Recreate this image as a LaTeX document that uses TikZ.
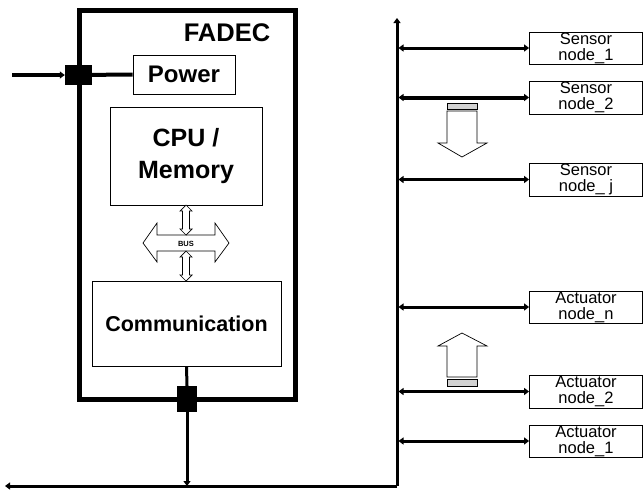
\documentclass[tikz,border=0pt]{standalone}
\usepackage{fontspec}
\setmainfont{Liberation Sans}
\usetikzlibrary{arrows.meta}
\tikzset{
  thinbox/.style={draw=black, line width=0.8pt, inner sep=0pt, fill=white},
  biglabel/.style={font=\fontsize{24}{32}\selectfont\bfseries, align=center},
  nodebox/.style={thinbox, minimum width=113pt, align=center,
    font=\fontsize{16.5}{16}\selectfont},
  pin/.style={fill=black, draw=none, inner sep=0pt},
  busline/.style={line width=3pt},
  tip/.style={-{Triangle[length=5pt,width=7pt]}},
  dbl/.style={line width=3pt, {Triangle[length=5pt,width=7pt]}-{Triangle[length=5pt,width=7pt]}},
  hollow/.style={draw=black, line width=0.7pt, fill=white},
  stripe/.style={draw=black, line width=0.7pt, fill=gray!35}
}
\begin{document}
\begin{tikzpicture}[x=1pt,y=-1pt]
\useasboundingbox (0,0) rectangle (643,491);
% FADEC enclosure
\node[draw=black, line width=5pt, inner sep=0pt, minimum width=215.5pt, minimum height=389.5pt] (fadec) at (187.25,204.75) {};
\node[biglabel, font=\fontsize{25.5}{30}\selectfont\bfseries] (fadeclabel) at (227,33) {FADEC};
% inner blocks
\node[thinbox, biglabel, minimum width=102pt, minimum height=39pt] (power) at (184,74.5) {Power};
\node[thinbox, biglabel, font=\fontsize{25}{32}\selectfont\bfseries, minimum width=152pt, minimum height=98pt] (cpu) at (186,156) {CPU /\\Memory};
\node[thinbox, biglabel, font=\fontsize{21.5}{24}\selectfont\bfseries, minimum width=189pt, minimum height=85pt] (comm) at (186.5,323.5) {Communication};
% connectors (pins)
\node[pin, minimum width=27pt, minimum height=20pt] (pin1) at (78.5,75) {};
\node[pin, minimum width=20pt, minimum height=26pt] (pin2) at (187,399) {};
% power input
\coordinate (pwrin) at (12,75);
\draw[line width=4pt, tip] (pwrin) -- (pin1.west);
\draw[line width=4pt] (pin1.center) -- (power.west);
% internal BUS
\draw[hollow] (143,243) -- (157,223) -- (157,235) -- (215,235) -- (215,223) -- (229,243)
  -- (215,262) -- (215,251) -- (157,251) -- (157,262) -- cycle;
\node[font=\fontsize{7.5}{8}\selectfont\bfseries, inner sep=0pt] (bus) at (186,243.5) {BUS};
\draw[hollow] (186,205) -- (192,211) -- (189.5,211) -- (189.5,229) -- (192,229) -- (186,235)
  -- (180,229) -- (182.5,229) -- (182.5,211) -- (180,211) -- cycle;
\draw[hollow] (186,251) -- (192,257) -- (189.5,257) -- (189.5,275) -- (192,275) -- (186,281)
  -- (180,275) -- (182.5,275) -- (182.5,257) -- (180,257) -- cycle;
% network bus
\coordinate (bc) at (397,486);
\coordinate (btop) at (397,18);
\coordinate (bleft) at (5,486);
\coordinate (bdrop) at (187,486);
\coordinate (busr) at (398.5,0);
\draw[line width=3pt] (comm.south) -- (pin2.north);
\draw[line width=3pt, tip] (pin2.south) -- (bdrop);
\draw[busline, tip] (bc) -- (btop);
\draw[busline, tip] (bc) -- (bleft);
% sensor and actuator nodes
\node[nodebox, minimum height=32pt] (s1) at (586,48) {Sensor\\node\_1};
\node[nodebox, minimum height=33pt] (s2) at (586,97.5) {Sensor\\node\_2};
\node[nodebox, minimum height=33pt] (sj) at (586,179.5) {Sensor\\node\_ j};
\node[nodebox, minimum height=32pt] (an) at (586,307) {Actuator\\node\_n};
\node[nodebox, minimum height=33pt] (a2) at (586,391.5) {Actuator\\node\_2};
\node[nodebox, minimum height=32pt] (a1) at (586,441) {Actuator\\node\_1};
\draw[dbl] (s1.west -| busr) -- (s1.west);
\draw[dbl, line width=4pt] (s2.west -| busr) -- (s2.west);
\draw[dbl] (sj.west -| busr) -- (sj.west);
\draw[dbl] (an.west -| busr) -- (an.west);
\draw[dbl] (a2.west -| busr) -- (a2.west);
\draw[dbl] (a1.west -| busr) -- (a1.west);
% data flow hollow arrows
\draw[stripe] (447,103) rectangle (477,109);
\draw[hollow] (447,111) -- (477,111) -- (477,143) -- (487,143) -- (462,157) -- (438,143) -- (447,143) -- cycle;
\draw[hollow] (447,377) -- (477,377) -- (477,346) -- (487,346) -- (462,333) -- (438,346) -- (447,346) -- cycle;
\draw[stripe] (447,379) rectangle (477,386);
\end{tikzpicture}
\end{document}
